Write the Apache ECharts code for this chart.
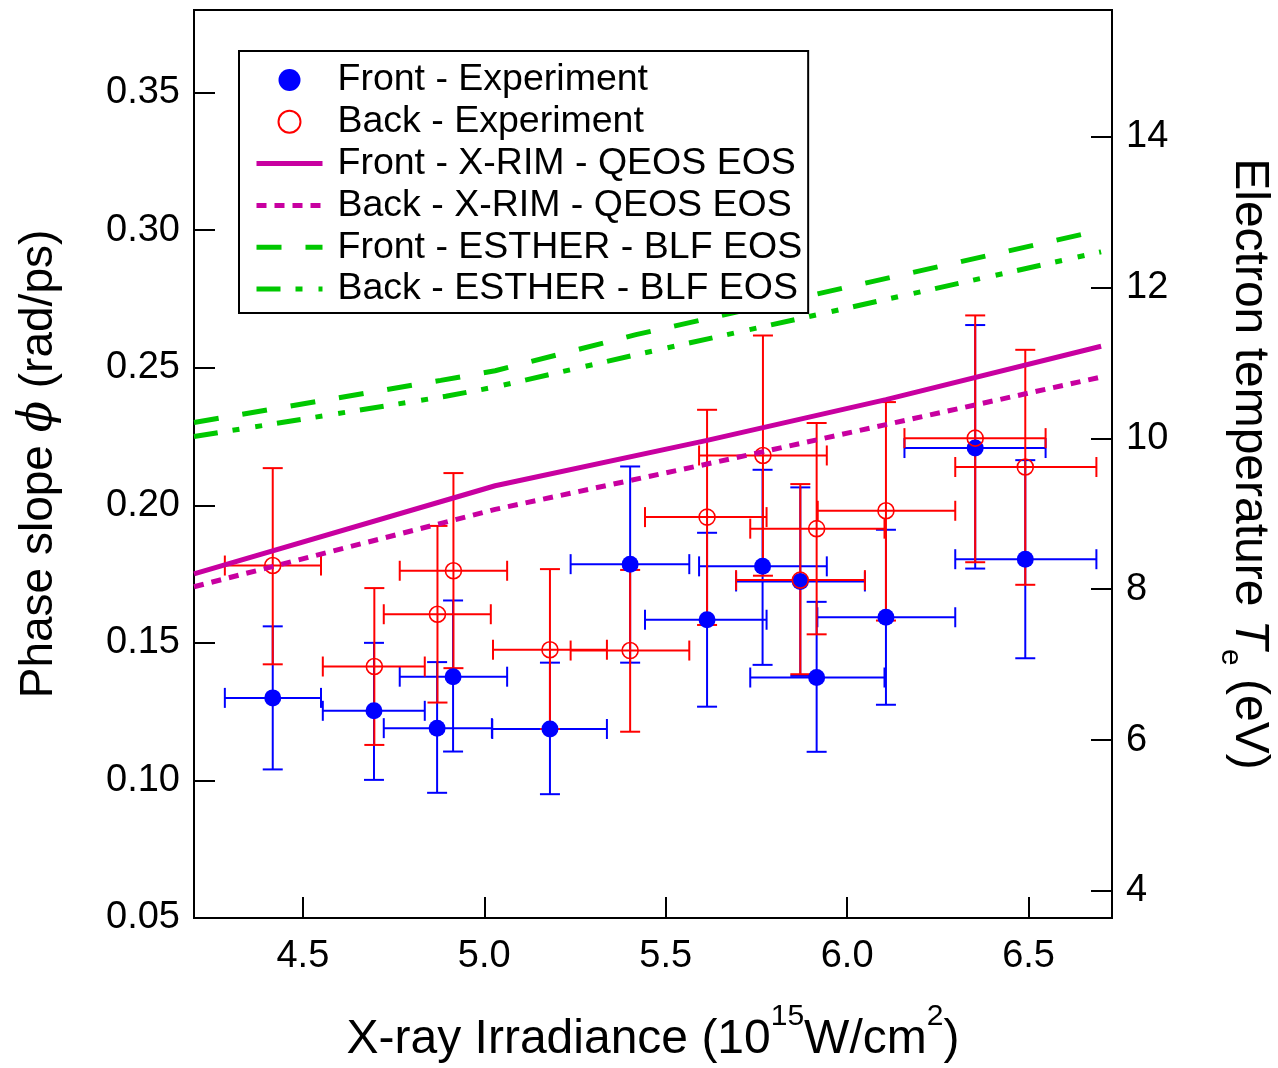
<!DOCTYPE html>
<html><head><meta charset="utf-8">
<script src="https://cdn.jsdelivr.net/npm/echarts@6/dist/echarts.min.js"></script>
<style>html,body{margin:0;padding:0;background:#fff}#c{width:1278px;height:1068px}</style>
</head><body><div id="c"></div>
<script>
// ---- data ----
const frontX   = [4.417, 4.696, 4.870, 4.914, 5.181, 5.402, 5.614, 5.767, 5.871, 5.916, 6.107, 6.353, 6.491];
const frontY   = [0.1300, 0.1253, 0.1190, 0.1377, 0.1187, 0.1786, 0.1584, 0.1778, 0.1723, 0.1374, 0.1593, 0.2208, 0.1804];
const frontXLo = [4.285, 4.555, 4.723, 4.767, 5.022, 5.238, 5.443, 5.592, 5.694, 5.733, 5.918, 6.158, 6.298];
const frontXHi = [4.550, 4.836, 5.021, 5.063, 5.338, 5.565, 5.778, 5.944, 6.049, 6.103, 6.298, 6.547, 6.687];
const frontYLo = [0.1040, 0.1002, 0.0955, 0.1105, 0.0950, 0.1428, 0.1268, 0.1420, 0.1380, 0.1104, 0.1275, 0.1770, 0.1444];
const frontYHi = [0.1560, 0.1500, 0.1430, 0.1654, 0.1428, 0.2141, 0.1900, 0.2129, 0.2065, 0.1649, 0.1911, 0.2655, 0.2164];

const backX    = [4.417, 4.697, 4.871, 4.915, 5.181, 5.402, 5.614, 5.768, 5.871, 5.916, 6.107, 6.353, 6.491];
const backY    = [0.1781, 0.1414, 0.1604, 0.1762, 0.1475, 0.1472, 0.1957, 0.2181, 0.1728, 0.1915, 0.1980, 0.2244, 0.2139];
const backXLo  = [4.285, 4.555, 4.723, 4.767, 5.024, 5.238, 5.443, 5.592, 5.694, 5.733, 5.919, 6.158, 6.298];
const backXHi  = [4.550, 4.836, 5.018, 5.063, 5.338, 5.565, 5.778, 5.944, 6.049, 6.103, 6.298, 6.547, 6.687];
const backYLo  = [0.1422, 0.1129, 0.1283, 0.1408, 0.1187, 0.1177, 0.1565, 0.1744, 0.1386, 0.1531, 0.1581, 0.1793, 0.1711];
const backYHi  = [0.2135, 0.1699, 0.1925, 0.2117, 0.1768, 0.1765, 0.2347, 0.2617, 0.2077, 0.2299, 0.2375, 0.2690, 0.2565];

const xrimFrontX = [4.2, 5.03, 5.614, 6.107, 6.7];
const xrimFrontY = [0.1751, 0.2071, 0.2236, 0.2384, 0.2578];
const xrimBackX  = [4.2, 5.03, 5.614, 6.107, 6.7];
const xrimBackY  = [0.1704, 0.1985, 0.2150, 0.2293, 0.2466];
const estFrontX  = [4.2, 4.88, 5.03, 5.418, 6.7];
const estFrontY  = [0.2301, 0.2454, 0.2489, 0.2620, 0.3000];
const estBackX   = [4.2, 4.894, 5.03, 5.418, 6.7];
const estBackY   = [0.2250, 0.2396, 0.2430, 0.2547, 0.2921];

const xTicks  = [4.5, 5.0, 5.5, 6.0, 6.5];
const yTicks  = [0.05, 0.10, 0.15, 0.20, 0.25, 0.30, 0.35];
const y2Ticks = [4, 6, 8, 10, 12, 14];

const names = ['Front - Experiment', 'Back - Experiment', 'Front - X-RIM - QEOS EOS',
               'Back - X-RIM - QEOS EOS', 'Front - ESTHER - BLF EOS', 'Back - ESTHER - BLF EOS'];

// ---- chart ----
const FONT = 'Arial, "Liberation Sans", sans-serif';
const BLUE = '#0000ff', RED = '#ff0000', MAG = '#c800a0', GREEN = '#00c800';
const DASH_XRIM_BACK = [10, 8], DASH_EST_FRONT = [25, 24], DASH_EST_BACK = [24, 15, 7, 16, 7, 15];

function zip(a, b) { return a.map((v, i) => [v, b[i]]); }
function errData(x, y, xl, xh, yl, yh) { return x.map((v, i) => [v, y[i], xl[i], xh[i], yl[i], yh[i]]); }
function errRender(color) {
  return function (params, api) {
    const x = api.value(0), y = api.value(1);
    const p = api.coord([x, y]);
    const xl = api.coord([api.value(2), y]);
    const xh = api.coord([api.value(3), y]);
    const yl = api.coord([x, api.value(4)]);
    const yh = api.coord([x, api.value(5)]);
    const c = 10;
    const style = { stroke: color, lineWidth: 2 };
    const L = (x1, y1, x2, y2) => ({ type: 'line', shape: { x1, y1, x2, y2 }, style });
    return {
      type: 'group', children: [
        L(xl[0], p[1], xh[0], p[1]), L(p[0], yl[1], p[0], yh[1]),
        L(xl[0], p[1] - c, xl[0], p[1] + c), L(xh[0], p[1] - c, xh[0], p[1] + c),
        L(p[0] - c, yl[1], p[0] + c, yl[1]), L(p[0] - c, yh[1], p[0] + c, yh[1])
      ]
    };
  };
}

const chart = echarts.init(document.getElementById('c'), null, { renderer: 'canvas' });
const axisLine = { show: true, lineStyle: { color: '#000', width: 2 } };
const axisTick = (vals) => ({ show: true, inside: true, length: 21, lineStyle: { color: '#000', width: 2 }, customValues: vals });
const hideSym = { opacity: 0 };

chart.setOption({
  animation: false,
  backgroundColor: '#fff',
  grid: { left: 194, right: 166, top: 10, bottom: 150, show: true, borderColor: '#000', borderWidth: 2,
          backgroundColor: 'transparent', outerBoundsMode: 'none', containLabel: false },
  legend: {
    orient: 'vertical', left: 239, top: 51,
    padding: [10, 6, 5, 15],
    itemWidth: 66, itemHeight: 22, itemGap: 3.8,
    borderColor: '#000', borderWidth: 2, backgroundColor: '#fff', borderRadius: 0,
    textStyle: { fontSize: 37.5, color: '#000', fontFamily: FONT, lineHeight: 38, padding: [0, 0, 0, 10] },
    data: [
      { name: names[0] },
      { name: names[1] },
      { name: names[2], itemStyle: hideSym, lineStyle: { width: 5, color: MAG } },
      { name: names[3], itemStyle: hideSym, lineStyle: { width: 5, color: MAG, type: DASH_XRIM_BACK } },
      { name: names[4], itemStyle: hideSym, lineStyle: { width: 5, color: GREEN, type: DASH_EST_FRONT } },
      { name: names[5], itemStyle: hideSym, lineStyle: { width: 5, color: GREEN, type: DASH_EST_BACK } }
    ],
    z: 20
  },
  xAxis: {
    type: 'value', min: 4.2, max: 6.73,
    axisLine, axisTick: axisTick(xTicks), splitLine: { show: false },
    axisLabel: { customValues: xTicks, fontSize: 38, color: '#000', fontFamily: FONT, margin: 20, formatter: v => v.toFixed(1) },
    name: '{n|X-ray Irradiance (10}{s|15}{n|W/cm}{s|2}{n|)}',
    nameLocation: 'middle', nameGap: 84,
    nameTextStyle: {
      fontFamily: FONT, color: '#000',
      rich: {
        n: { fontSize: 48, fontFamily: FONT, color: '#000', lineHeight: 62, verticalAlign: 'bottom' },
        s: { fontSize: 30, fontFamily: FONT, color: '#000', lineHeight: 62, verticalAlign: 'top' }
      }
    }
  },
  yAxis: [{
    type: 'value', min: 0.05, max: 0.38, position: 'left',
    axisLine, axisTick: axisTick(yTicks), splitLine: { show: false },
    axisLabel: { customValues: yTicks, fontSize: 38, color: '#000', fontFamily: FONT, margin: 14, formatter: v => v.toFixed(2) },
    name: '{n|Phase slope }{i|ϕ}{n| (rad/ps)}',
    nameLocation: 'middle', nameGap: 132,
    nameTextStyle: {
      fontFamily: FONT, color: '#000',
      rich: {
        n: { fontSize: 46, fontFamily: FONT, color: '#000' },
        i: { fontSize: 46, fontFamily: '"DejaVu Serif", serif', fontStyle: 'italic', color: '#000' }
      }
    }
  }, {
    type: 'value', min: 3.64, max: 15.68, position: 'right',
    axisLine, axisTick: axisTick(y2Ticks), splitLine: { show: false },
    axisLabel: { customValues: y2Ticks, fontSize: 38, color: '#000', fontFamily: FONT, margin: 14 },
    name: '{n|Electron temperature }{i|T}{s|e}{n| (eV)}',
    nameLocation: 'middle', nameGap: 103, nameRotate: -90,
    nameTextStyle: {
      fontFamily: FONT, color: '#000',
      rich: {
        n: { fontSize: 48, fontFamily: FONT, color: '#000', lineHeight: 58, verticalAlign: 'top' },
        i: { fontSize: 48, fontFamily: FONT, fontStyle: 'italic', color: '#000', lineHeight: 58, verticalAlign: 'top' },
        s: { fontSize: 30, fontFamily: FONT, color: '#000', lineHeight: 58, verticalAlign: 'bottom' }
      }
    }
  }],
  series: [
    { name: 'frontErr', type: 'custom', renderItem: errRender(BLUE), data: errData(frontX, frontY, frontXLo, frontXHi, frontYLo, frontYHi), encode: { x: 0, y: 1 }, silent: true },
    { name: names[0], type: 'scatter', data: zip(frontX, frontY), symbol: 'circle', symbolSize: 17, itemStyle: { color: BLUE, opacity: 1 } },
    { name: 'backErr', type: 'custom', renderItem: errRender(RED), data: errData(backX, backY, backXLo, backXHi, backYLo, backYHi), encode: { x: 0, y: 1 }, silent: true },
    { name: names[1], type: 'scatter', data: zip(backX, backY), symbol: 'circle', symbolSize: 16, itemStyle: { color: 'rgba(255,255,255,0)', borderColor: RED, borderWidth: 1.6, opacity: 1 } },
    { name: names[2], type: 'line', data: zip(xrimFrontX, xrimFrontY), symbol: 'none', lineStyle: { color: MAG, width: 5 }, itemStyle: { color: MAG } },
    { name: names[3], type: 'line', data: zip(xrimBackX, xrimBackY), symbol: 'none', lineStyle: { color: MAG, width: 5, type: DASH_XRIM_BACK }, itemStyle: { color: MAG } },
    { name: names[4], type: 'line', data: zip(estFrontX, estFrontY), symbol: 'none', lineStyle: { color: GREEN, width: 5, type: DASH_EST_FRONT }, itemStyle: { color: GREEN } },
    { name: names[5], type: 'line', data: zip(estBackX, estBackY), symbol: 'none', lineStyle: { color: GREEN, width: 5, type: DASH_EST_BACK }, itemStyle: { color: GREEN } }
  ]
});
</script>
</body></html>
